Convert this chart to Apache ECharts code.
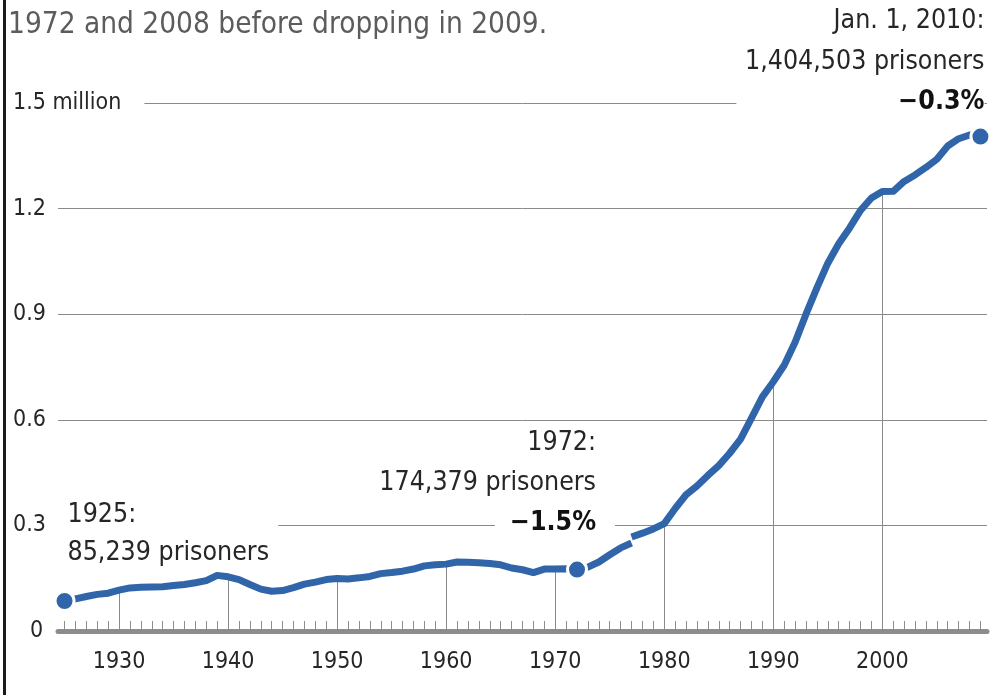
<!DOCTYPE html>
<html><head><meta charset="utf-8">
<script src="https://cdn.jsdelivr.net/npm/echarts@6/dist/echarts.min.js"></script>
<style>
html,body{margin:0;padding:0;background:#fff;}
#chart{position:absolute;left:0;top:0;width:994px;height:695px;}
#edge{position:absolute;left:3px;top:0;width:3px;height:695px;background:#1a1a1a;}
</style></head><body>
<div id="chart"></div><div id="edge"></div>
<script>
const FONT = '"DejaVu Sans Condensed","Liberation Sans Narrow","Liberation Sans",sans-serif';

// Custody-based count, 1925-1977 (millions)
const custodyYears = [1925,1926,1927,1928,1929,1930,1931,1932,1933,1934,1935,1936,1937,1938,1939,
  1940,1941,1942,1943,1944,1945,1946,1947,1948,1949,1950,1951,1952,1953,1954,1955,1956,1957,1958,1959,
  1960,1961,1962,1963,1964,1965,1966,1967,1968,1969,1970,1971,1972,1973,1974,1975,1976,1977];
const custodyValues = [0.0852,0.0912,0.0980,0.1040,0.1075,0.1160,0.1225,0.1240,0.1250,0.1260,0.1290,0.1320,0.1370,0.1430,0.1580,
  0.1540,0.1460,0.1320,0.1190,0.1130,0.1150,0.1230,0.1330,0.1390,0.1460,0.1490,0.1480,0.1510,0.1550,0.1630,0.1660,0.1700,0.1760,0.1850,0.1880,
  0.1900,0.1960,0.1950,0.1940,0.1920,0.1880,0.1790,0.1740,0.1660,0.1760,0.1760,0.1770,0.1744,0.1815,0.1960,0.2165,0.2360,0.2500];

// Jurisdiction-based count, 1977-2009 (millions)
const jurisYears = [1977,1978,1979,1980,1981,1982,1983,1984,1985,1986,1987,1988,1989,1990,1991,1992,1993,
  1994,1995,1996,1997,1998,1999,2000,2001,2002,2003,2004,2005,2006,2007,2008,2009];
const jurisValues = [0.2670,0.2780,0.2900,0.3050,0.3480,0.3870,0.4120,0.4420,0.4700,0.5050,0.5450,0.6050,0.6650,0.7080,0.7550,0.8200,0.9000,
  0.9750,1.0450,1.1000,1.1450,1.1950,1.2300,1.2488,1.2490,1.2771,1.2955,1.3168,1.3403,1.3778,1.3986,1.4092,1.4045];

const decadeLabels = [1930,1940,1950,1960,1970,1980,1990,2000];
const yTicks = [0,0.3,0.6,0.9,1.2,1.5];

const noteYears = [1925,1972,2009];
const noteValues = [0.085239,0.174379,1.404503];
const noteHeads = ['1925:','1972:','Jan. 1, 2010:'];
const noteCounts = ['85,239 prisoners','174,379 prisoners','1,404,503 prisoners'];
const noteChanges = ['','\u22121.5%','\u22120.3%'];

const titleText = '1972 and 2008 before dropping in 2009.';

// ---- derived ----
const allYears = Array.from(new Set(custodyYears.concat(jurisYears)));
function valueAt(y){
  let i = custodyYears.indexOf(y);
  if (y <= 1977 && i >= 0) return custodyValues[i];
  i = jurisYears.indexOf(y);
  return jurisValues[i];
}
const dropData = decadeLabels.map(y => [y, valueAt(y)]);
const custodyData = custodyYears.map((y,i) => [y, custodyValues[i]]);
const jurisData = jurisYears.map((y,i) => [y, jurisValues[i]]);

const BLUE = '#3165aa';
const TXT = '#262626';
const NOTE_FS = 26.5;
const AX_FS = 23;

const labelCfgs = [
  { show:true, position:'top', align:'left', verticalAlign:'bottom', offset:[-7,-13],
    formatter: '{h|' + noteHeads[0] + '}\n{t|' + noteCounts[0] + '}',
    rich: {
      h:{fontFamily:FONT,fontSize:NOTE_FS,color:TXT,lineHeight:38,backgroundColor:'#fff',padding:[0,142,0,10]},
      t:{fontFamily:FONT,fontSize:NOTE_FS,color:TXT,lineHeight:38,padding:[0,0,0,10]}
    }},
  { show:true, position:'top', align:'right', verticalAlign:'bottom', offset:[38,-11],
    formatter: '{a|' + noteHeads[1] + '}\n{a|' + noteCounts[1] + '}\n{b|' + noteChanges[1] + '}',
    rich: {
      a:{fontFamily:FONT,fontSize:NOTE_FS,color:TXT,lineHeight:40,padding:[0,19,0,0]},
      b:{fontFamily:FONT,fontSize:NOTE_FS,color:'#111',fontWeight:'bold',lineHeight:40,backgroundColor:'#fff',padding:[0,19,0,15]}
    }},
  { show:true, position:'top', align:'right', verticalAlign:'bottom', offset:[4,0],
    formatter: '{a|' + noteHeads[2] + '}\n{a|' + noteCounts[2] + '}\n{b|' + noteChanges[2] + '}',
    rich: {
      a:{fontFamily:FONT,fontSize:NOTE_FS,color:TXT,lineHeight:41},
      b:{fontFamily:FONT,fontSize:NOTE_FS,color:'#111',fontWeight:'bold',lineHeight:38,backgroundColor:'#fff',padding:[0,0,0,162]}
    }}
];

const chart = echarts.init(document.getElementById('chart'), null, {renderer:'canvas'});
chart.setOption({
  animation:false,
  backgroundColor:'#fff',
  title:{ text:titleText, left:3, top:5, textStyle:{fontFamily:FONT,fontSize:29.5,fontWeight:'normal',color:'#5c5c5c'} },
  grid:{ left:58, right:7, top:103, bottom:64, containLabel:false },
  xAxis:{
    type:'value', min:1924.4, max:2009.6,
    axisLine:{ show:true, lineStyle:{color:'#8c8c8c', width:5} },
    axisTick:{ show:true, inside:true, length:10, customValues: allYears, lineStyle:{color:'#8c8c8c', width:1} },
    axisLabel:{ show:true, customValues: decadeLabels, margin:20, fontFamily:FONT, fontSize:AX_FS, color:TXT, formatter: v => String(v) },
    splitLine:{ show:false }
  },
  yAxis:{
    type:'value', min:0, max:1.5, interval:0.3,
    axisLine:{show:false}, axisTick:{show:false},
    splitLine:{ show:true, lineStyle:{color:'#8a8a8a', width:1} },
    axisLabel:{
      align:'left', margin:45, fontFamily:FONT, fontSize:AX_FS, color:TXT,
      formatter: v => Math.abs(v-1.5)<1e-9 ? '{m|1.5 million}' : (Math.abs(v)<1e-9 ? '{z|0}' : '{n|' + v.toFixed(1) + '}'),
      rich:{
        m:{fontFamily:FONT,fontSize:AX_FS,color:TXT,backgroundColor:'#fff',padding:[2,23,2,0]},
        n:{fontFamily:FONT,fontSize:AX_FS,color:TXT},
        z:{fontFamily:FONT,fontSize:AX_FS,color:TXT,padding:[0,0,0,17]}
      }
    }
  },
  series:[
    { type:'custom', name:'drops', z:1, coordinateSystem:'cartesian2d', data:dropData, encode:{x:0,y:1}, silent:true,
      renderItem:(params, api) => {
        const p0 = api.coord([api.value(0), 0]);
        const p1 = api.coord([api.value(0), api.value(1)]);
        const x = Math.round(p0[0]) + 0.5;
        return { type:'line', shape:{x1:x, y1:p0[1], x2:x, y2:p1[1]}, style:{stroke:'#8a8a8a', lineWidth:1} };
      }},
    { type:'line', name:'custody', z:3, data:custodyData, showSymbol:false, symbol:'none',
      lineStyle:{color:BLUE, width:7, cap:'butt', join:'round'} },
    { type:'line', name:'jurisdiction', z:3, data:jurisData, showSymbol:false, symbol:'none',
      lineStyle:{color:BLUE, width:7, cap:'butt', join:'round'} },
    { type:'scatter', name:'notes', z:4, symbolSize:19,
      itemStyle:{color:BLUE, borderColor:'#fff', borderWidth:3, opacity:1},
      data: noteYears.map((y,i) => ({ value:[y, noteValues[i]], label: labelCfgs[i] })) }
  ]
});
</script>
</body></html>
